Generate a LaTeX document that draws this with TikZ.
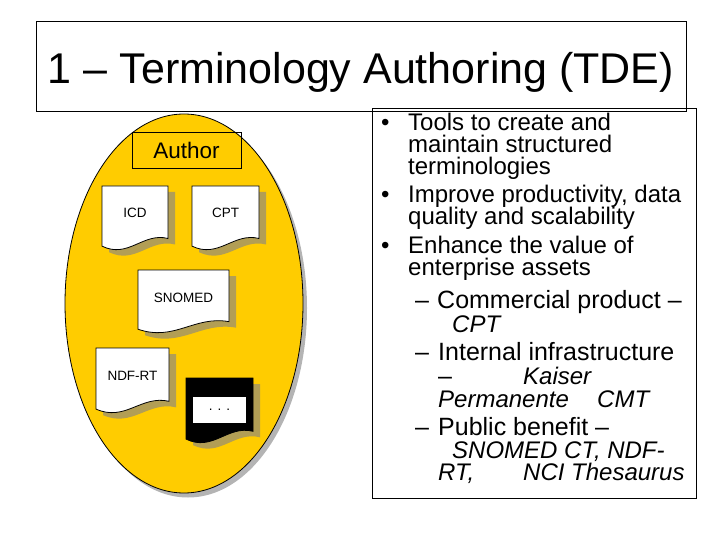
\documentclass[tikz,border=0pt]{standalone}
\usepackage{fontspec}
\setmainfont{Liberation Sans}
\usepackage{xcolor}
\definecolor{AuthorGold}{HTML}{FFCC00}
\definecolor{DocShade}{HTML}{B29E55}
\definecolor{EggShade}{HTML}{B4B4B4}
\usepackage{tikz}
\usetikzlibrary{positioning}

% document sheet with wavy foot: name, x, y, width, height, fill, label style, label
\newcommand{\termdoc}[8]{%
  \begin{scope}[shift={(#2,#3)}]
    \fill[DocShade,shift={(7,6)}] (0,0) -- (#4,0) -- (#4,0.82*#5)
      .. controls (0.62*#4,0.72*#5) and (0.4*#4,1.14*#5) .. (0,0.94*#5) -- cycle;
    \filldraw[fill=#6,draw=black,line width=0.8pt] (0,0) -- (#4,0) -- (#4,0.82*#5)
      .. controls (0.62*#4,0.72*#5) and (0.4*#4,1.14*#5) .. (0,0.94*#5) -- cycle;
    \node[#7] (#1) at (#4/2,32) {#8};
  \end{scope}}

\begin{document}
\begin{tikzpicture}[
  x=1pt,y=-1pt,
  frame/.style={draw=black,line width=0.8pt,inner sep=0pt},
  doclabel/.style={anchor=base,inner sep=0pt,font=\fontsize{13.5}{13.5}\selectfont},
  dotlabel/.style={anchor=center,fill=white,inner sep=0pt,minimum width=53pt,minimum height=26pt,font=\fontsize{13.5}{13.5}\selectfont},
  txt/.style={anchor=base west,inner sep=0pt,font=\fontsize{24}{24}\selectfont},
  subtxt/.style={txt,font=\fontsize{25}{25}\selectfont},
  itx/.style={txt,font=\fontsize{24}{24}\selectfont\itshape}
]
\useasboundingbox (0,0) rectangle (720,540);

% title
\node[frame,minimum width=650pt,minimum height=90pt] (titlebox) at (361,66) {};
\node[anchor=base,inner sep=0pt,font=\fontsize{43}{43}\selectfont] (title) at (361,84) {1 -- Terminology Authoring (TDE)};

% authoring egg
\fill[EggShade] (188,308) ellipse [x radius=119,y radius=189.5];
\filldraw[fill=AuthorGold,draw=black,line width=0.8pt] (184,303.5) ellipse [x radius=119,y radius=189.5];
\node[frame,minimum width=109pt,minimum height=36pt,font=\fontsize{22.5}{22.5}\selectfont] (author) at (186.5,150) {Author};

\termdoc{icd}{102}{186}{66}{64}{white}{doclabel}{ICD}
\termdoc{cpt}{192}{186}{67}{64}{white}{doclabel}{CPT}
\termdoc{snomed}{138}{270}{91}{63}{white}{doclabel}{SNOMED}
\termdoc{ndfrt}{96}{348}{73}{65}{white}{doclabel}{NDF-RT}
\termdoc{more}{186}{378}{67}{65}{black}{dotlabel}{. . .}

% bullet list
\node[frame,minimum width=324pt,minimum height=390pt] (listbox) at (534,303) {};
\node[txt] (b1) at (381,131) {•};
\node[txt] (tools) at (408,131) {Tools to create and};
\node[txt] (maintain) at (408,153) {maintain structured};
\node[txt] (terms) at (408,175) {terminologies};
\node[txt] (b2) at (381,203) {•};
\node[txt] (improve) at (408,203) {Improve productivity, data};
\node[txt] (quality) at (408,225) {quality and scalability};
\node[txt] (b3) at (381,253) {•};
\node[txt] (enhance) at (408,253) {Enhance the value of};
\node[txt] (assets) at (408,275) {enterprise assets};
\node[subtxt] (d1) at (415,308) {--};
\node[subtxt] (commercial) at (437,308) {Commercial product --};
\node[itx] (cpttxt) at (452,332) {CPT};
\node[subtxt] (d2) at (415,360) {--};
\node[subtxt] (internal) at (438,360) {Internal infrastructure};
\node[subtxt] (d3) at (438,384) {--};
\node[itx] (kaiser) at (523,384) {Kaiser};
\node[itx] (permanente) at (438,407) {Permanente};
\node[itx] (cmt) at (597,407) {CMT};
\node[subtxt] (d4) at (415,435) {--};
\node[subtxt] (public) at (438,435) {Public benefit --};
\node[itx] (snomedtxt) at (452,458) {SNOMED CT, NDF-};
\node[itx] (rt) at (438,480) {RT,};
\node[itx] (nci) at (523,480) {NCI Thesaurus};
\end{tikzpicture}
\end{document}
